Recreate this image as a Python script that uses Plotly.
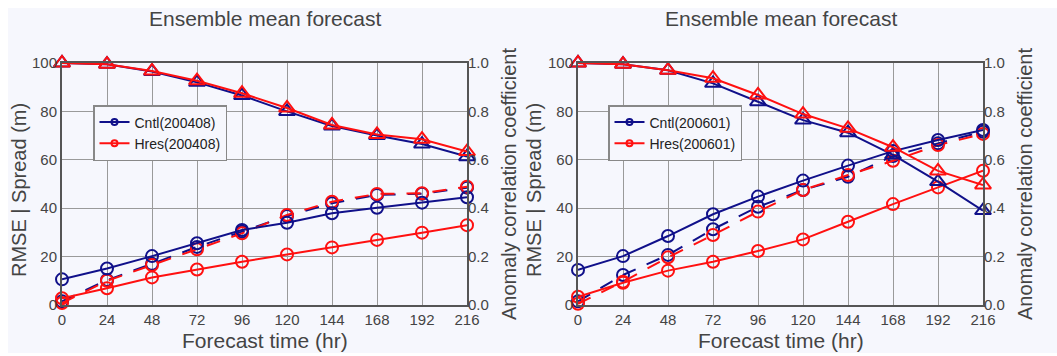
import plotly.graph_objects as go

# ---------------- data ----------------
hours = [0, 24, 48, 72, 96, 120, 144, 168, 192, 216]
x_ticks = [0, 24, 48, 72, 96, 120, 144, 168, 192, 216]
y_ticks = [0, 20, 40, 60, 80, 100]
y2_ticks = [0.0, 0.2, 0.4, 0.6, 0.8, 1.0]

# Left panel (200408)
acc_cntl_l = [1.00, 0.995, 0.965, 0.92, 0.866, 0.80, 0.74, 0.70, 0.665, 0.613]
acc_hres_l = [1.00, 0.995, 0.967, 0.927, 0.875, 0.814, 0.744, 0.705, 0.685, 0.634]
rmse_cntl_l = [10.6, 15.1, 20.2, 25.5, 31.0, 34.0, 37.9, 40.2, 42.3, 44.5]
rmse_hres_l = [2.8, 6.9, 11.4, 14.7, 17.9, 20.9, 23.8, 26.9, 29.9, 33.0]
spread_cntl_l = [1.5, 10.3, 17.0, 24.0, 30.3, 36.8, 42.0, 45.5, 46.0, 48.5]
spread_hres_l = [0.8, 10.0, 16.5, 23.0, 29.6, 37.2, 42.7, 45.9, 46.2, 48.9]

# Right panel (200601)
acc_cntl_r = [1.00, 0.995, 0.97, 0.916, 0.84, 0.764, 0.712, 0.62, 0.51, 0.39]
acc_hres_r = [1.00, 0.995, 0.97, 0.937, 0.868, 0.789, 0.73, 0.652, 0.554, 0.496]
rmse_cntl_r = [14.5, 20.2, 28.5, 37.5, 44.8, 51.4, 57.6, 63.6, 68.2, 72.3]
rmse_hres_r = [3.4, 9.2, 14.2, 17.9, 22.3, 27.1, 34.4, 41.7, 48.6, 55.5]
spread_cntl_r = [1.5, 12.4, 20.7, 31.3, 40.6, 47.5, 53.0, 61.6, 66.8, 71.6]
spread_hres_r = [0.5, 9.6, 19.7, 28.9, 38.6, 47.5, 53.7, 59.6, 66.1, 70.7]

labels_l = ["Cntl(200408)", "Hres(200408)"]
labels_r = ["Cntl(200601)", "Hres(200601)"]
title_text = "Ensemble mean forecast"
xlabel = "Forecast time (hr)"
ylabel = "RMSE | Spread (m)"
y2label = "Anomaly correlation coefficient"

# ---------------- style ----------------
W, H = 1057, 356
NAVY = "#10108a"
RED = "#ff1010"
BG = "#f6f7fd"
TXT = "#444444"
FONT = "Liberation Sans, Arial, sans-serif"

def px(v):
    return v / W

def py(v):
    return (H - v) / H

dom_y = [py(305), py(63)]
dom_xl = [px(62), px(467)]
dom_xr = [px(578), px(983)]

fig = go.Figure()

def add_panel(xa, ya, ya2, acc_c, acc_h, rm_c, rm_h, sp_c, sp_h, labels, legend_name):
    common = dict(x=hours, xaxis=xa, cliponaxis=False, showlegend=False, hoverinfo="skip")
    # triangles (ACC)
    for vals, col in ((acc_c, NAVY), (acc_h, RED)):
        fig.add_trace(go.Scatter(y=vals, yaxis=ya2, mode="lines+markers",
                                 line=dict(color=col, width=2),
                                 marker=dict(symbol="triangle-up-open", size=14,
                                             color=col, line=dict(width=2, color=col)),
                                 **common))
    # spread (dashed)
    for vals, col in ((sp_c, NAVY), (sp_h, RED)):
        fig.add_trace(go.Scatter(y=vals, yaxis=ya, mode="lines+markers",
                                 line=dict(color=col, width=2, dash="14px,12px"),
                                 marker=dict(symbol="circle-open", size=12,
                                             color=col, line=dict(width=2, color=col)),
                                 **common))
    # rmse (solid)
    for vals, col in ((rm_c, NAVY), (rm_h, RED)):
        fig.add_trace(go.Scatter(y=vals, yaxis=ya, mode="lines+markers",
                                 line=dict(color=col, width=2),
                                 marker=dict(symbol="circle-open", size=12,
                                             color=col, line=dict(width=2, color=col)),
                                 **common))
    # legend entries
    for lab, col in zip(labels, (NAVY, RED)):
        fig.add_trace(go.Scatter(x=[None], y=[None], xaxis=xa, yaxis=ya,
                                 mode="lines+markers", name=lab, legend=legend_name,
                                 line=dict(color=col, width=2),
                                 marker=dict(symbol="circle-open", size=6,
                                             color=col, line=dict(width=2, color=col))))

add_panel("x", "y", "y2", acc_cntl_l, acc_hres_l, rmse_cntl_l, rmse_hres_l,
          spread_cntl_l, spread_hres_l, labels_l, "legend")
add_panel("x2", "y3", "y4", acc_cntl_r, acc_hres_r, rmse_cntl_r, rmse_hres_r,
          spread_cntl_r, spread_hres_r, labels_r, "legend2")

axis_common = dict(showline=True, linecolor="#555555", linewidth=2, mirror=True,
                   showgrid=True, gridcolor="#9a9a9a", gridwidth=1, zeroline=False,
                   ticks="", automargin=False,
                   tickfont=dict(size=15, color=TXT, family=FONT))

xax = dict(range=[0, 216], tickvals=x_ticks, ticktext=[str(t) for t in x_ticks], **axis_common)
yax = dict(range=[0, 100], tickvals=y_ticks, ticktext=[str(t) for t in y_ticks], **axis_common)
y2ax = dict(range=[0, 1], tickvals=y2_ticks, ticktext=["%.1f" % t for t in y2_ticks],
            side="right", showgrid=False, showline=False, zeroline=False, ticks="",
            automargin=False, tickfont=dict(size=15, color=TXT, family=FONT))

legend_common = dict(bgcolor=BG, bordercolor="#888888", borderwidth=1.5,
                     font=dict(size=14, color="#222222", family=FONT),
                     xanchor="left", yanchor="top", tracegroupgap=0, itemwidth=30)

fig.update_layout(
    width=W, height=H, autosize=False,
    margin=dict(l=0, r=0, t=0, b=0, pad=0, autoexpand=False),
    paper_bgcolor="white",
    plot_bgcolor=BG,
    font=dict(family=FONT, color=TXT),
    xaxis=dict(domain=dom_xl, anchor="y", **xax),
    yaxis=dict(domain=dom_y, anchor="x", **yax),
    yaxis2=dict(overlaying="y", anchor="x", **y2ax),
    xaxis2=dict(domain=dom_xr, anchor="y3", **xax),
    yaxis3=dict(domain=dom_y, anchor="x2", **yax),
    yaxis4=dict(overlaying="y3", anchor="x2", **y2ax),
    legend=dict(x=px(93), y=py(105), **legend_common),
    legend2=dict(x=px(608), y=py(105), **legend_common),
    shapes=[dict(type="rect", xref="paper", yref="paper", x0=px(8), x1=1,
                 y0=py(353), y1=py(8), fillcolor=BG, line=dict(width=0), layer="below")],
)

ann = []
for cx, lx, rx in ((264.5, 19, 509), (780.5, 534, 1025)):
    ann.append(dict(text=title_text, x=px(cx), y=py(19), xref="paper", yref="paper",
                    showarrow=False, font=dict(size=21, color=TXT, family=FONT),
                    xanchor="center", yanchor="middle"))
    ann.append(dict(text=xlabel, x=px(cx), y=py(340), xref="paper", yref="paper",
                    showarrow=False, font=dict(size=21, color=TXT, family=FONT),
                    xanchor="center", yanchor="middle"))
    ann.append(dict(text=ylabel, x=px(lx), y=py(190), xref="paper", yref="paper",
                    showarrow=False, textangle=-90, font=dict(size=20, color=TXT, family=FONT),
                    xanchor="center", yanchor="middle"))
    ann.append(dict(text=y2label, x=px(rx), y=py(184), xref="paper", yref="paper",
                    showarrow=False, textangle=-90, font=dict(size=20, color=TXT, family=FONT),
                    xanchor="center", yanchor="middle"))
fig.update_layout(annotations=ann)

fig.write_html("out.html", config={"displayModeBar": False},
               post_script="document.body.style.margin='0';document.body.style.overflow='hidden';")
